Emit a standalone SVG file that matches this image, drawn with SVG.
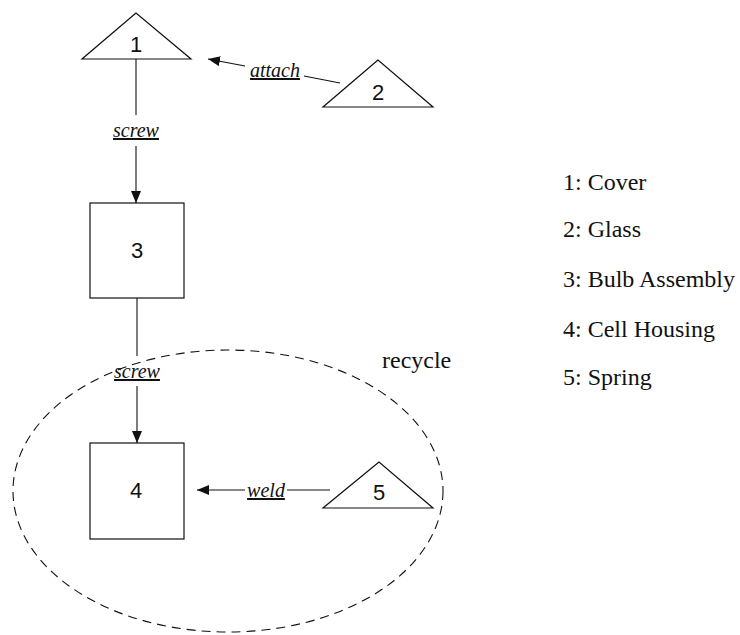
<svg xmlns="http://www.w3.org/2000/svg" width="740" height="635" viewBox="0 0 740 635">
  <style>
    .shape { fill: none; stroke: #111; stroke-width: 1.2; }
    .num { font-family: "Liberation Sans", Arial, sans-serif; font-size: 22px; fill: #111; text-anchor: middle; }
    .conn { fill: none; stroke: #111; stroke-width: 1.1; }
    .rel { font-family: "Liberation Serif", "Times New Roman", serif; font-style: italic; font-size: 20px; fill: #111; text-anchor: middle; text-decoration: underline; }
    .legend { font-family: "Liberation Serif", "Times New Roman", serif; font-size: 24px; fill: #111; }
    .zone { fill: none; stroke: #111; stroke-width: 1.1; stroke-dasharray: 9 6; }
  </style>
  <defs>
    <marker id="arrow" viewBox="0 0 12 10" refX="12" refY="5" markerWidth="12" markerHeight="10" markerUnits="userSpaceOnUse" orient="auto">
      <path d="M0,0 L12,5 L0,10 Z" fill="#111"/>
    </marker>
  </defs>

  <rect width="740" height="635" fill="#fff"/>

  <!-- recycle zone -->
  <g id="recycle-zone">
    <ellipse class="zone" cx="228" cy="491" rx="215" ry="141"/>
    <text class="legend" x="382" y="368">recycle</text>
  </g>

  <!-- parts -->
  <g id="node-1">
    <polygon class="shape" points="136,13 82,59 191,59"/>
    <text class="num" x="136" y="52">1</text>
  </g>
  <g id="node-2">
    <polygon class="shape" points="378,60 323,107 433,107"/>
    <text class="num" x="378" y="100">2</text>
  </g>
  <g id="node-3">
    <rect class="shape" x="90" y="203" width="94" height="95"/>
    <text class="num" x="137" y="258">3</text>
  </g>
  <g id="node-4">
    <rect class="shape" x="90" y="443" width="94" height="96"/>
    <text class="num" x="136" y="498">4</text>
  </g>
  <g id="node-5">
    <polygon class="shape" points="379,462 323,508 433,508"/>
    <text class="num" x="379" y="500">5</text>
  </g>

  <!-- connectors -->
  <g id="connectors">
    <line class="conn" x1="136" y1="59" x2="136" y2="115"/>
    <line class="conn" x1="136" y1="146" x2="136" y2="203" marker-end="url(#arrow)"/>
    <text class="rel" x="136" y="137">screw</text>

    <line class="conn" x1="137" y1="298" x2="137" y2="356"/>
    <line class="conn" x1="137" y1="386" x2="137" y2="443" marker-end="url(#arrow)"/>
    <text class="rel" x="137" y="378">screw</text>

    <line class="conn" x1="340" y1="83" x2="304" y2="76"/>
    <line class="conn" x1="245" y1="66" x2="208" y2="59" marker-end="url(#arrow)"/>
    <text class="rel" x="275" y="77">attach</text>

    <line class="conn" x1="330" y1="490" x2="287" y2="490"/>
    <line class="conn" x1="245" y1="490" x2="197" y2="490" marker-end="url(#arrow)"/>
    <text class="rel" x="266" y="497">weld</text>
  </g>

  <!-- legend -->
  <g id="legend">
    <text class="legend" x="563" y="190">1: Cover</text>
    <text class="legend" x="563" y="237">2: Glass</text>
    <text class="legend" x="563" y="287">3: Bulb Assembly</text>
    <text class="legend" x="563" y="337">4: Cell Housing</text>
    <text class="legend" x="563" y="385">5: Spring</text>
  </g>
</svg>
